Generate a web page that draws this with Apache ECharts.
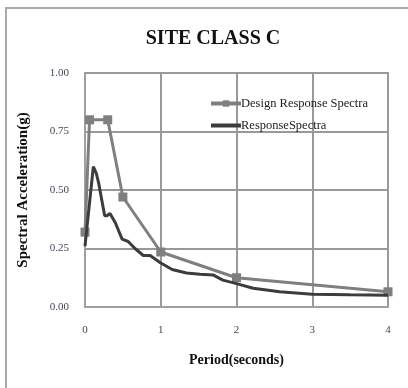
<!DOCTYPE html>
<html><head><meta charset="utf-8">
<script src="https://cdn.jsdelivr.net/npm/echarts@6/dist/echarts.min.js"></script>
<style>html,body{margin:0;padding:0;background:#fff}#c{width:408px;height:388px}</style>
</head><body><div id="c"></div>
<script>
const titleText = 'SITE CLASS C';
const xName = 'Period(seconds)';
const yName = 'Spectral Acceleration(g)';
const designName = 'Design Response Spectra';
const responseName = 'ResponseSpectra';
const xTicks = [0, 1, 2, 3, 4];
const yTicks = [0, 0.25, 0.5, 0.75, 1.0];
const designPeriod = [0, 0.06, 0.3, 0.5, 1.0, 2.0, 4.0];
const designAcc = [0.32, 0.80, 0.80, 0.47, 0.235, 0.125, 0.065];
const responsePeriod = [0, 0.11, 0.15, 0.18, 0.26, 0.29, 0.33, 0.40, 0.49, 0.57, 0.66, 0.77, 0.86, 0.99, 1.15, 1.34, 1.52, 1.69, 1.82, 2.0, 2.22, 2.57, 3.0, 3.5, 4.0];
const responseAcc = [0.26, 0.60, 0.57, 0.53, 0.39, 0.39, 0.40, 0.36, 0.29, 0.28, 0.25, 0.22, 0.22, 0.19, 0.16, 0.145, 0.14, 0.137, 0.115, 0.10, 0.08, 0.065, 0.055, 0.052, 0.05];

const serif = '"Liberation Serif","DejaVu Serif",serif';
const chart = echarts.init(document.getElementById('c'));
chart.setOption({
  animation: false,
  backgroundColor: '#fff',
  title: {text: titleText, left: 208, textAlign: 'center', top: 24,
    textStyle: {fontFamily: serif, fontWeight: 'bold', fontSize: 20, color: '#111'}},
  graphic: [{type: 'rect', shape: {x: 6, y: 8, width: 420, height: 400},
    style: {fill: null, stroke: '#aaa', lineWidth: 2}, silent: true}],
  legend: {orient: 'vertical', left: 204, top: 92, itemGap: 9, itemWidth: 30, itemHeight: 8,
    lineStyle: {width: 4},
    textStyle: {fontFamily: serif, fontSize: 12.5, color: '#222', padding: [0,0,0,-5]},
    data: [designName, {name: responseName, itemStyle: {opacity: 0}}]},
  grid: {left: 85, right: 20, top: 73, bottom: 81, show: true, borderColor: '#a0a0a0', borderWidth: 2},
  xAxis: {type: 'value', min: xTicks[0], max: xTicks[xTicks.length-1], interval: 1,
    name: xName, nameLocation: 'middle', nameGap: 46,
    nameTextStyle: {fontFamily: serif, fontWeight: 'bold', fontSize: 14, color: '#111'},
    axisLine: {show: true, lineStyle: {color: '#a0a0a0', width: 2}}, axisTick: {show: false},
    axisLabel: {fontFamily: serif, fontSize: 11, color: '#445', margin: 18},
    splitLine: {show: true, lineStyle: {color: '#999', width: 2}}},
  yAxis: {type: 'value', min: yTicks[0], max: yTicks[yTicks.length-1], interval: 0.25,
    name: yName, nameLocation: 'middle', nameGap: 54,
    nameTextStyle: {fontFamily: serif, fontWeight: 'bold', fontSize: 15, color: '#111'},
    axisLine: {show: true, lineStyle: {color: '#a0a0a0', width: 2}}, axisTick: {show: false},
    axisLabel: {fontFamily: serif, fontSize: 11, color: '#445', margin: 16, formatter: v => v.toFixed(2)},
    splitLine: {show: true, lineStyle: {color: '#999', width: 2}}},
  series: [
    {name: designName, type: 'line', data: designPeriod.map((p, i) => [p, designAcc[i]]),
      symbol: 'rect', symbolSize: 9, lineStyle: {color: '#7f7f7f', width: 3}, itemStyle: {color: '#7f7f7f'}, z: 2},
    {name: responseName, type: 'line', data: responsePeriod.map((p, i) => [p, responseAcc[i]]),
      symbol: 'none', lineStyle: {color: '#3c3c3c', width: 3}, itemStyle: {color: '#3c3c3c'}, z: 3}
  ]
});
</script></body></html>
